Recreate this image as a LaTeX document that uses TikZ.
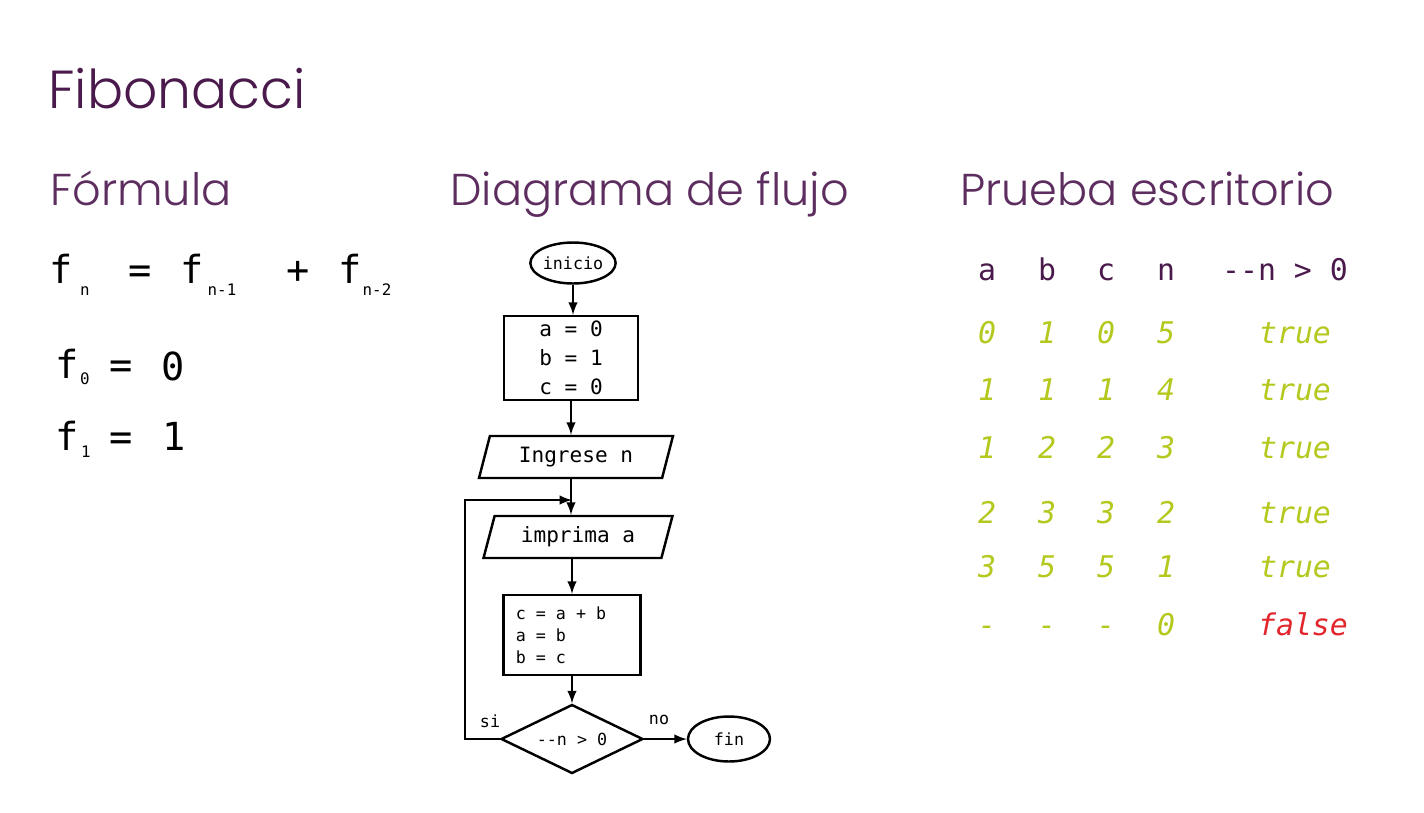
\documentclass[tikz,border=0pt]{standalone}
\usepackage{fontspec}
\newfontfamily\headfont{Poppins Light}
\newfontfamily\codefont{DejaVu Sans Mono}
\usetikzlibrary{shapes.geometric}
\definecolor{fibpurple}{HTML}{4A1A4C}
\definecolor{subpurple}{HTML}{5C2D5E}
\definecolor{rowgreen}{HTML}{B4C81E}
\definecolor{falsered}{HTML}{E2262D}

\begin{document}
\begin{tikzpicture}[
x=0.02cm, y=-0.02cm,
every node/.style={inner sep=0pt},
fibtitle/.style={anchor=base west, font=\headfont\fontsize{30.5}{36}\selectfont, text=fibpurple},
heading/.style={anchor=base west, font=\headfont\fontsize{25.4}{30}\selectfont, text=subpurple},
formula/.style={anchor=base, font=\codefont\fontsize{22}{26}\selectfont},
formsub/.style={anchor=base, font=\codefont\fontsize{9}{11}\selectfont},
flow/.style={draw, line width=1.4pt, inner sep=2pt, align=center, font=\codefont\fontsize{9.5}{12}\selectfont},
term/.style={flow, ellipse, inner sep=0pt},
proc/.style={flow, rectangle},
io/.style={flow, trapezium, trapezium left angle=68, trapezium right angle=112,
  trapezium stretches body, minimum height=0.84cm, font=\codefont\fontsize{12}{14}\selectfont},
test/.style={flow, diamond, aspect=2, inner sep=0pt, minimum width=2.84cm, minimum height=1.38cm},
arrow/.style={-latex, line width=1.4pt},
thead/.style={anchor=base, font=\codefont\fontsize{17}{20}\selectfont, text=fibpurple},
tcell/.style={anchor=base, font=\codefont\itshape\fontsize{17}{20}\selectfont, text=rowgreen}
]
\useasboundingbox (0,0) rectangle (1424,812);

% titulos
\node[fibtitle] (title) at (48,108) {Fibonacci};
\node[heading] (hform) at (50,205) {Fórmula};
\node[heading] (hflow) at (450,205) {Diagrama de flujo};
\node[heading] (htest) at (960,205) {Prueba escritorio};

% formula
\node[formula] (f1) at (61,283) {f};
\node[formsub] (s1) at (85,295) {n};
\node[formula] (eq1) at (140,283) {=};
\node[formula] (f2) at (192,283) {f};
\node[formsub] (s2) at (222,295) {n-1};
\node[formula] (pl) at (298,283) {+};
\node[formula] (f3) at (350,283) {f};
\node[formsub] (s3) at (377,295) {n-2};

\node[formula] (f4) at (67,378) {f};
\node[formsub] (s4) at (85,384) {0};
\node[formula] (eq2) at (121,378) {=};
\node[formula] (v0) at (173,380) {0};

\node[formula] (f5) at (67,450) {f};
\node[formsub] (s5) at (86,457) {1};
\node[formula] (eq3) at (121,450) {=};
\node[formula] (v1) at (174,450) {1};

% diagrama de flujo
\node[term, minimum width=1.62cm, minimum height=0.82cm] (start) at (573,263) {inicio};
\node[proc, minimum width=2.68cm, minimum height=1.68cm,
  font=\codefont\fontsize{12}{16.4}\selectfont] (init) at (571,358) {a = 0\\b = 1\\c = 0};
\node[io, minimum width=3.88cm] (read) at (576,457) {Ingrese n};
\node[io, minimum width=3.78cm] (print) at (578,537) {imprima a};
\node[proc, minimum width=2.74cm, minimum height=1.6cm, align=left,
  font=\codefont\fontsize{9.5}{12.5}\selectfont] (calc) at (572,635)
  {c = a + b\hspace*{0.44cm}\\a = b\\b = c};
\node[test] (dec) at (572,739) {-{}-n > 0};
\node[term, minimum width=1.64cm, minimum height=0.9cm] (stop) at (729,739) {fin};
\coordinate (merge) at (572,500);

\draw[arrow] (start) -- (start |- init.north);
\draw[arrow] (init) -- (init |- read.north);
\draw[arrow] (init |- read.south) -- (init |- print.north);
\draw[arrow] (calc |- print.south) -- (calc.north);
\draw[arrow] (calc) -- (dec);
\draw[arrow] (dec.west) -- ++(-35,0) |- (merge);
\draw[arrow] (dec.east) -- (stop);

\node[flow, draw=none] (lsi) at (490,721) {si};
\node[flow, draw=none] (lno) at (659,720) {no};

% prueba de escritorio
\node[thead] (ha) at (987,280) {a};
\node[thead] (hb) at (1047,280) {b};
\node[thead] (hc) at (1106,280) {c};
\node[thead] (hn) at (1166,280) {n};
\node[thead] (hd) at (1285,280) {-{}-n > 0};

\node[tcell] (a1) at (987,343) {0};
\node[tcell] (b1) at (1047,343) {1};
\node[tcell] (c1) at (1106,343) {0};
\node[tcell] (n1) at (1166,343) {5};
\node[tcell] (d1) at (1295,343) {true};

\node[tcell] (a2) at (987,400) {1};
\node[tcell] (b2) at (1047,400) {1};
\node[tcell] (c2) at (1106,400) {1};
\node[tcell] (n2) at (1166,400) {4};
\node[tcell] (d2) at (1295,400) {true};

\node[tcell] (a3) at (987,458) {1};
\node[tcell] (b3) at (1047,458) {2};
\node[tcell] (c3) at (1106,458) {2};
\node[tcell] (n3) at (1166,458) {3};
\node[tcell] (d3) at (1295,458) {true};

\node[tcell] (a4) at (987,523) {2};
\node[tcell] (b4) at (1047,523) {3};
\node[tcell] (c4) at (1106,523) {3};
\node[tcell] (n4) at (1166,523) {2};
\node[tcell] (d4) at (1295,523) {true};

\node[tcell] (a5) at (987,577) {3};
\node[tcell] (b5) at (1047,577) {5};
\node[tcell] (c5) at (1106,577) {5};
\node[tcell] (n5) at (1166,577) {1};
\node[tcell] (d5) at (1295,577) {true};

\node[tcell] (a6) at (987,635) {-};
\node[tcell] (b6) at (1047,635) {-};
\node[tcell] (c6) at (1106,635) {-};
\node[tcell] (n6) at (1166,635) {0};
\node[tcell, text=falsered] (d6) at (1303,635) {false};

\end{tikzpicture}
\end{document}
